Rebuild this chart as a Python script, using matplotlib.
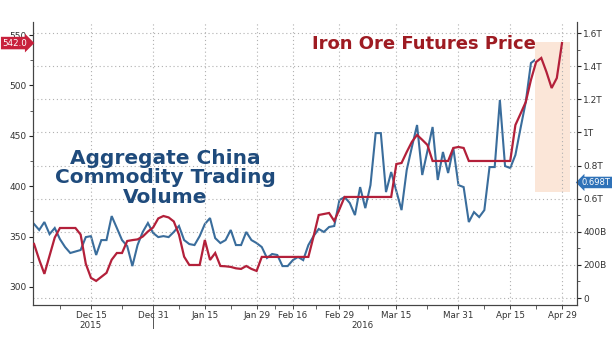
import matplotlib
matplotlib.use("Agg")
import matplotlib.pyplot as plt
from matplotlib.patches import Rectangle
import matplotlib.transforms as mtransforms

# ---- data (x = trading-day index from Nov 30, 2015) ----
tick_pos = [11, 23, 33, 43, 50, 59, 70, 82, 92, 102]
tick_labels = ["Dec 15", "Dec 31", "Jan 15", "Jan 29", "Feb 16", "Feb 29",
               "Mar 15", "Mar 31", "Apr 15", "Apr 29"]
minor_pos = [5, 17, 28, 38, 46.5, 54.5, 64.5, 76, 87, 97]
year_labels = ["2015", "2016"]
year_pos = [11, 63.5]

iron_ore = [342.7, 327, 313, 331, 349, 358.5, 358.5, 358.5, 358.5, 352,
            323, 309, 306, 310, 314, 327, 333.7, 333.7, 345.6, 346.5,
            347.2, 350, 355, 359, 368, 370.4, 369, 365, 352, 330,
            321.8, 321.8, 321.8, 346.6, 326.8, 333.7, 320.8, 320.5, 319.9, 318.5,
            317.9, 320.8, 317.9, 315.9, 329.8, 329.8, 329.8, 329.8, 329.8, 329.8,
            329.8, 329.8, 329.8, 329.8, 350, 371.4, 372.4, 373.4, 365.5, 377,
            389.3, 389.3, 389.3, 389.3, 389.3, 389.3, 389.3, 389.3, 389.3, 389.3,
            422, 423, 433.9, 444, 450.8, 446, 440.9, 425, 425, 425,
            425, 437.9, 438.9, 437.9, 425, 425, 425, 425, 425, 425,
            425, 425, 425, 460.7, 472, 483.5, 505.4, 523.2, 527.2, 513.3,
            497.4, 507.3, 542.0]

volume_t = [0.447, 0.411, 0.459, 0.386, 0.423, 0.356, 0.308, 0.272, 0.281, 0.290,
            0.368, 0.374, 0.260, 0.350, 0.350, 0.495, 0.423, 0.350, 0.314, 0.193,
            0.320, 0.399, 0.453, 0.393, 0.368, 0.374, 0.368, 0.399, 0.435, 0.350,
            0.326, 0.320, 0.374, 0.447, 0.483, 0.362, 0.332, 0.350, 0.411, 0.320,
            0.320, 0.399, 0.350, 0.332, 0.308, 0.242, 0.266, 0.260, 0.193, 0.193,
            0.229, 0.248, 0.229, 0.320, 0.374, 0.417, 0.399, 0.429, 0.435, 0.592,
            0.610, 0.574, 0.501, 0.670, 0.543, 0.682, 0.996, 0.996, 0.640, 0.761,
            0.646, 0.531, 0.773, 0.912, 1.045, 0.743, 0.888, 1.033, 0.713, 0.882,
            0.755, 0.906, 0.682, 0.670, 0.459, 0.519, 0.489, 0.531, 0.791, 0.791,
            1.196, 0.797, 0.785, 0.864, 1.027, 1.184, 1.419, 1.443, 1.316, 0.984,
            0.833, 0.698]

left_ticks = [300, 350, 400, 450, 500, 550]
right_ticks = [0, 0.2, 0.4, 0.6, 0.8, 1.0, 1.2, 1.4, 1.6]
right_tick_labels = ["0", "200B", "400B", "0.6T", "0.8T", "1T", "1.2T", "1.4T", "1.6T"]

# ---- styles ----
RED = "#b3203a"
BLUE = "#3a6d9c"
TXT = "#333333"
GRIDC = "#b0b0b0"

fig = plt.figure(figsize=(6.12, 3.38), dpi=100)
ax = fig.add_axes([33/612, 1-305/338, (577-33)/612, (305-22)/338])
ax2 = ax.twinx()

x_red = list(range(len(iron_ore)))
x_blue = list(range(len(volume_t)))

ax.set_xlim(-0.2, 104.9)
ax.set_ylim(282.1, 562.9)
ax2.set_ylim(-0.042, 1.667)

# shaded region
ax.add_patch(Rectangle((96.8, 394.2), 6.7, 148.8, facecolor="#fbe6d8",
                       edgecolor="none", zorder=0.5))

# grid (based on right axis) and date verticals
for v in right_ticks:
    ax2.axhline(v, color=GRIDC, lw=0.8, ls=(0, (1, 2.5)), zorder=0.6)
for p in tick_pos:
    ax.axvline(p, color=GRIDC, lw=0.8, ls=(0, (1, 2.5)), zorder=0.6)

ax.plot(x_red, iron_ore, color=RED, lw=1.6, zorder=3, solid_joinstyle="miter")
ax2.plot(x_blue, volume_t, color=BLUE, lw=1.5, zorder=2, solid_joinstyle="miter")
ax.set_zorder(ax2.get_zorder() + 1)
ax.patch.set_visible(False)

# spines
for a in (ax, ax2):
    a.spines["top"].set_visible(False)
    for s in ("left", "right", "bottom"):
        a.spines[s].set_color("#444444")
        a.spines[s].set_linewidth(0.8)

# left axis ticks
ax.set_yticks(left_ticks)
ax.set_yticks([325, 375, 425, 475, 525], minor=True)
ax.tick_params(axis="y", which="major", labelsize=6.5, labelcolor=TXT, length=3,
               width=0.8, color="#222222", pad=1.5)
ax.tick_params(axis="y", which="minor", length=2, width=0.6, color="#444444")

# right axis ticks
ax2.set_yticks(right_ticks)
ax2.set_yticklabels(right_tick_labels)
ax2.set_yticks([0.1, 0.3, 0.5, 0.7, 0.9, 1.1, 1.3, 1.5], minor=True)
ax2.tick_params(axis="y", which="major", labelsize=6.5, labelcolor=TXT, length=3,
                width=0.8, color="#222222", pad=1.5)
ax2.tick_params(axis="y", which="minor", length=2, width=0.6, color="#444444")

# x ticks
ax.set_xticks(tick_pos)
ax.set_xticklabels(tick_labels)
ax.set_xticks(minor_pos, minor=True)
ax.tick_params(axis="x", which="major", labelsize=6.3, labelcolor=TXT, length=3,
               width=0.7, color="#444444", pad=1.0)
ax.tick_params(axis="x", which="minor", length=3, width=0.6, color="#444444")
ax2.tick_params(axis="x", which="both", bottom=False, labelbottom=False)

# year labels and separator
trans_x = mtransforms.blended_transform_factory(ax.transData, ax.transAxes)
for lab, p in zip(year_labels, year_pos):
    ax.text(p, -0.072, lab, transform=trans_x, ha="center", va="center",
            fontsize=6.3, color=TXT)
ax.plot([23, 23], [0, -0.08], transform=trans_x, color="#555555", lw=0.7,
        clip_on=False)

# value tags
trans_ly = mtransforms.blended_transform_factory(ax.transAxes, ax.transData)
ax.text(-0.01, iron_ore[-1], "%.1f" % iron_ore[-1], transform=trans_ly,
        ha="right", va="center", fontsize=6.3, color="white", zorder=10,
        bbox=dict(boxstyle="rarrow,pad=0.2", fc="#c8203c", ec="none"))
trans_ry = mtransforms.blended_transform_factory(ax2.transAxes, ax2.transData)
ax2.text(1.009, volume_t[-1], "%.3fT" % volume_t[-1], transform=trans_ry,
         ha="left", va="center", fontsize=6.0, color="white", zorder=10,
         bbox=dict(boxstyle="larrow,pad=0.15", fc="#2f72b8", ec="none"))

# annotations
ax.text(0.719, 0.922, "Iron Ore Futures Price", transform=ax.transAxes,
        ha="center", va="center", fontsize=13, fontweight="bold",
        color="#9e1b22", zorder=11)
ax.text(0.243, 0.449, "Aggregate China\nCommodity Trading\nVolume",
        transform=ax.transAxes, ha="center", va="center", fontsize=14.5,
        fontweight="bold", color="#1f4b7c", linespacing=1.03, zorder=11)

fig.savefig("out.png", dpi=100)
